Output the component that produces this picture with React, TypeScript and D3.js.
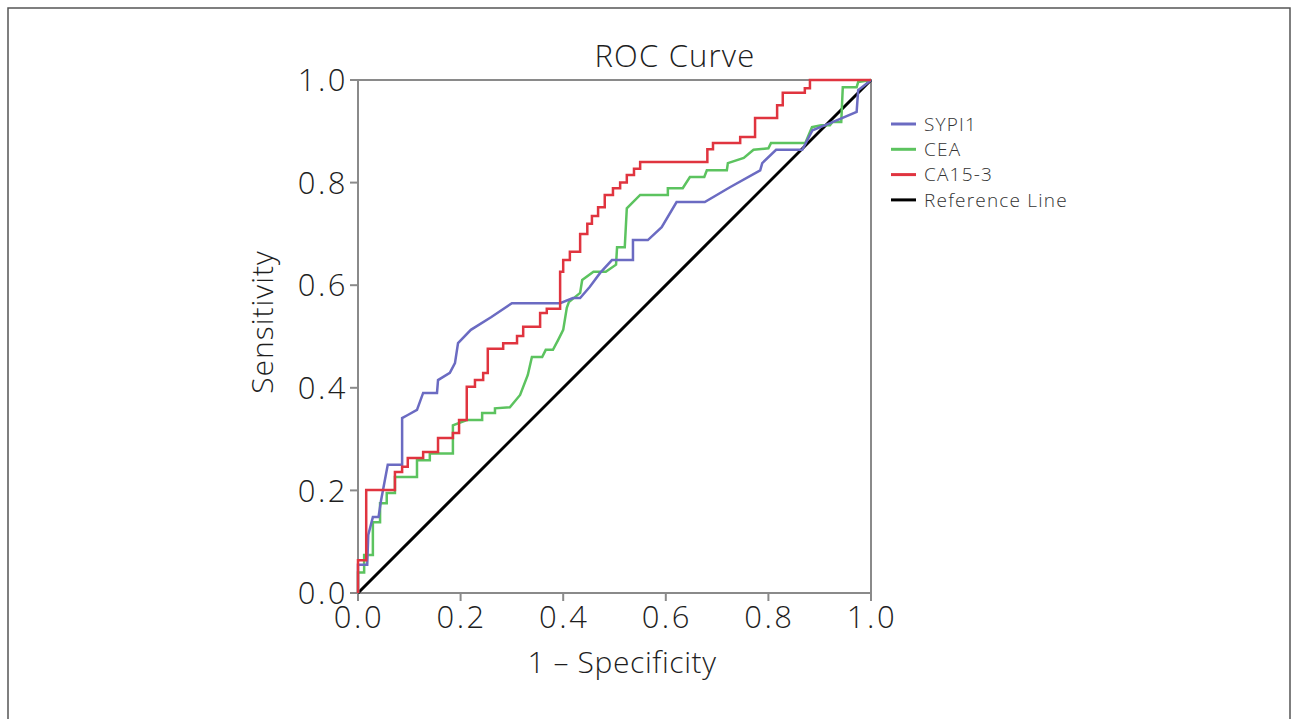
import React from "react";
import * as d3 from "d3";

const xTicks = [0, 0.2, 0.4, 0.6, 0.8, 1.0];
const yTicks = [0, 0.2, 0.4, 0.6, 0.8, 1.0];

const seriesNames = ["SYPI1", "CEA", "CA15-3", "Reference Line"];
const seriesColors = ["#6b6bc2", "#5cc35f", "#e0343f", "#000000"];

// [1 - specificity, sensitivity]
const sypi1: [number, number][] = [
  [0, 0], [0, 0.055], [0.018, 0.055], [0.02, 0.113], [0.029, 0.148], [0.04, 0.148],
  [0.045, 0.181], [0.058, 0.25], [0.086, 0.25], [0.086, 0.341], [0.097, 0.347],
  [0.115, 0.357], [0.127, 0.39], [0.154, 0.39], [0.156, 0.415], [0.179, 0.429],
  [0.189, 0.448], [0.195, 0.487], [0.22, 0.513], [0.26, 0.538], [0.3, 0.565],
  [0.394, 0.565], [0.419, 0.575], [0.433, 0.575], [0.452, 0.597], [0.472, 0.624],
  [0.495, 0.649], [0.536, 0.649], [0.536, 0.688], [0.565, 0.688], [0.592, 0.713],
  [0.621, 0.762], [0.676, 0.762], [0.725, 0.791], [0.784, 0.824], [0.788, 0.838],
  [0.815, 0.864], [0.866, 0.864], [0.886, 0.902], [0.925, 0.918], [0.972, 0.938],
  [0.975, 0.98], [0.993, 0.994], [1, 1],
];

const cea: [number, number][] = [
  [0, 0], [0, 0.04], [0.012, 0.04], [0.012, 0.074], [0.029, 0.074], [0.029, 0.138],
  [0.043, 0.138], [0.043, 0.175], [0.056, 0.175], [0.056, 0.195], [0.072, 0.195],
  [0.072, 0.226], [0.115, 0.226], [0.115, 0.259], [0.14, 0.259], [0.14, 0.272],
  [0.185, 0.272], [0.185, 0.327], [0.212, 0.337], [0.242, 0.337], [0.242, 0.351],
  [0.267, 0.351], [0.267, 0.36], [0.296, 0.362], [0.316, 0.386], [0.331, 0.425],
  [0.339, 0.46], [0.359, 0.46], [0.366, 0.474], [0.38, 0.474], [0.39, 0.493],
  [0.4, 0.513], [0.407, 0.556], [0.411, 0.567], [0.433, 0.585], [0.437, 0.61],
  [0.459, 0.626], [0.483, 0.626], [0.503, 0.64], [0.505, 0.674], [0.52, 0.674],
  [0.524, 0.75], [0.536, 0.762], [0.55, 0.776], [0.604, 0.776], [0.604, 0.789],
  [0.633, 0.789], [0.647, 0.811], [0.675, 0.811], [0.68, 0.824], [0.719, 0.824],
  [0.721, 0.838], [0.752, 0.848], [0.771, 0.864], [0.8, 0.867], [0.805, 0.877],
  [0.872, 0.877], [0.885, 0.908], [0.903, 0.912], [0.92, 0.912], [0.925, 0.918],
  [0.942, 0.918], [0.945, 0.986], [0.972, 0.986], [0.975, 0.996], [1, 1],
];

const ca153: [number, number][] = [
  [0, 0], [0, 0.064], [0.016, 0.064], [0.016, 0.201], [0.072, 0.201], [0.072, 0.236],
  [0.086, 0.236], [0.086, 0.246], [0.097, 0.246], [0.097, 0.263], [0.127, 0.263],
  [0.127, 0.275], [0.156, 0.275], [0.156, 0.302], [0.185, 0.302], [0.185, 0.312],
  [0.197, 0.312], [0.197, 0.337], [0.212, 0.337], [0.212, 0.402], [0.228, 0.402],
  [0.228, 0.415], [0.244, 0.415], [0.244, 0.429], [0.253, 0.429], [0.253, 0.476],
  [0.283, 0.476], [0.283, 0.487], [0.31, 0.487], [0.31, 0.501], [0.322, 0.501],
  [0.322, 0.519], [0.339, 0.519], [0.339, 0.519], [0.355, 0.519], [0.355, 0.546],
  [0.368, 0.546], [0.368, 0.554], [0.394, 0.554], [0.394, 0.626], [0.4, 0.626],
  [0.4, 0.649], [0.413, 0.649], [0.413, 0.665], [0.433, 0.665], [0.433, 0.7],
  [0.447, 0.7], [0.447, 0.72], [0.456, 0.72], [0.456, 0.735], [0.468, 0.735],
  [0.468, 0.752], [0.481, 0.752], [0.481, 0.776], [0.497, 0.776], [0.497, 0.789],
  [0.511, 0.789], [0.511, 0.8], [0.524, 0.8], [0.524, 0.815], [0.538, 0.815],
  [0.538, 0.827], [0.55, 0.827], [0.55, 0.84], [0.681, 0.84], [0.681, 0.865],
  [0.692, 0.865], [0.692, 0.877], [0.745, 0.877], [0.745, 0.889], [0.774, 0.889],
  [0.774, 0.926], [0.817, 0.926], [0.817, 0.951], [0.828, 0.951], [0.828, 0.975],
  [0.871, 0.975], [0.871, 0.984], [0.881, 0.984], [0.881, 1.0], [1, 1],
];

const referenceLine: [number, number][] = [[0, 0], [1, 1]];

const seriesData = [sypi1, cea, ca153, referenceLine];

const W = 1296;
const H = 719;
const FONT = "'Open Sans', Lato, 'DejaVu Sans', sans-serif";

export default function App() {
  const x = d3.scaleLinear().domain([0, 1]).range([358, 871]);
  const y = d3.scaleLinear().domain([0, 1]).range([593, 80]);
  const line = d3
    .line<[number, number]>()
    .x((d) => x(d[0]))
    .y((d) => y(d[1]));

  const axisColor = "#8a8a8a";
  const textColor = "#1e1e1e";

  return (
    <svg
      width={W}
      height={H}
      style={{ position: "absolute", left: 0, top: 0, background: "#fff" }}
      fontFamily={FONT}
    >
      <rect x={0} y={0} width={W} height={H} fill="#fff" />
      {/* outer frame */}
      <rect x={8} y={8} width={1282} height={H + 20} fill="none" stroke="#555" strokeWidth={1.5} />

      {/* title */}
      <text x={675} y={67} textAnchor="middle" fontSize={31} fontWeight={300} fill={textColor} letterSpacing={1.2}>
        ROC Curve
      </text>

      {/* plot frame */}
      <rect
        x={x(0)}
        y={y(1)}
        width={x(1) - x(0)}
        height={y(0) - y(1)}
        fill="none"
        stroke={axisColor}
        strokeWidth={2}
      />

      {/* y ticks */}
      {yTicks.map((t) => (
        <g key={"y" + t}>
          <line x1={x(0) - 8} x2={x(0)} y1={y(t)} y2={y(t)} stroke={axisColor} strokeWidth={2} />
          <text
            x={x(0) - 10}
            y={y(t)}
            dy="0.36em"
            textAnchor="end"
            fontSize={31}
            fontWeight={300}
            fill={textColor}
            letterSpacing={2.5}
          >
            {t.toFixed(1)}
          </text>
        </g>
      ))}

      {/* x ticks */}
      {xTicks.map((t) => (
        <g key={"x" + t}>
          <line x1={x(t)} x2={x(t)} y1={y(0)} y2={y(0) + 8} stroke={axisColor} strokeWidth={2} />
          <text
            x={x(t) + 1}
            y={y(0) + 35}
            textAnchor="middle"
            fontSize={31}
            fontWeight={300}
            fill={textColor}
            letterSpacing={2.5}
          >
            {t.toFixed(1)}
          </text>
        </g>
      ))}

      {/* axis titles */}
      <text
        transform={`translate(273, 322) rotate(-90)`}
        textAnchor="middle"
        fontSize={30}
        fontWeight={300}
        fill={textColor}
        letterSpacing={1}
      >
        Sensitivity
      </text>
      <text
        x={622}
        y={673}
        textAnchor="middle"
        fontSize={30}
        fontWeight={300}
        fill={textColor}
        letterSpacing={0.6}
      >
        1 – Specificity
      </text>

      {/* curves: draw reference first, then others */}
      <path d={line(referenceLine) || ""} fill="none" stroke={seriesColors[3]} strokeWidth={3} />
      {[1, 0, 2].map((i) => (
        <path
          key={seriesNames[i]}
          d={line(seriesData[i]) || ""}
          fill="none"
          stroke={seriesColors[i]}
          strokeWidth={2.5}
          strokeLinejoin="miter"
        />
      ))}

      {/* legend */}
      {seriesNames.map((name, i) => (
        <g key={"leg" + name} transform={`translate(891, ${124 + i * 25.3})`}>
          <line x1={0} x2={25} y1={0} y2={0} stroke={seriesColors[i]} strokeWidth={3} />
          <text x={33} y={0} dy="0.36em" fontSize={19} fontWeight={300} fill="#333" letterSpacing={1.2}>
            {name}
          </text>
        </g>
      ))}
    </svg>
  );
}
